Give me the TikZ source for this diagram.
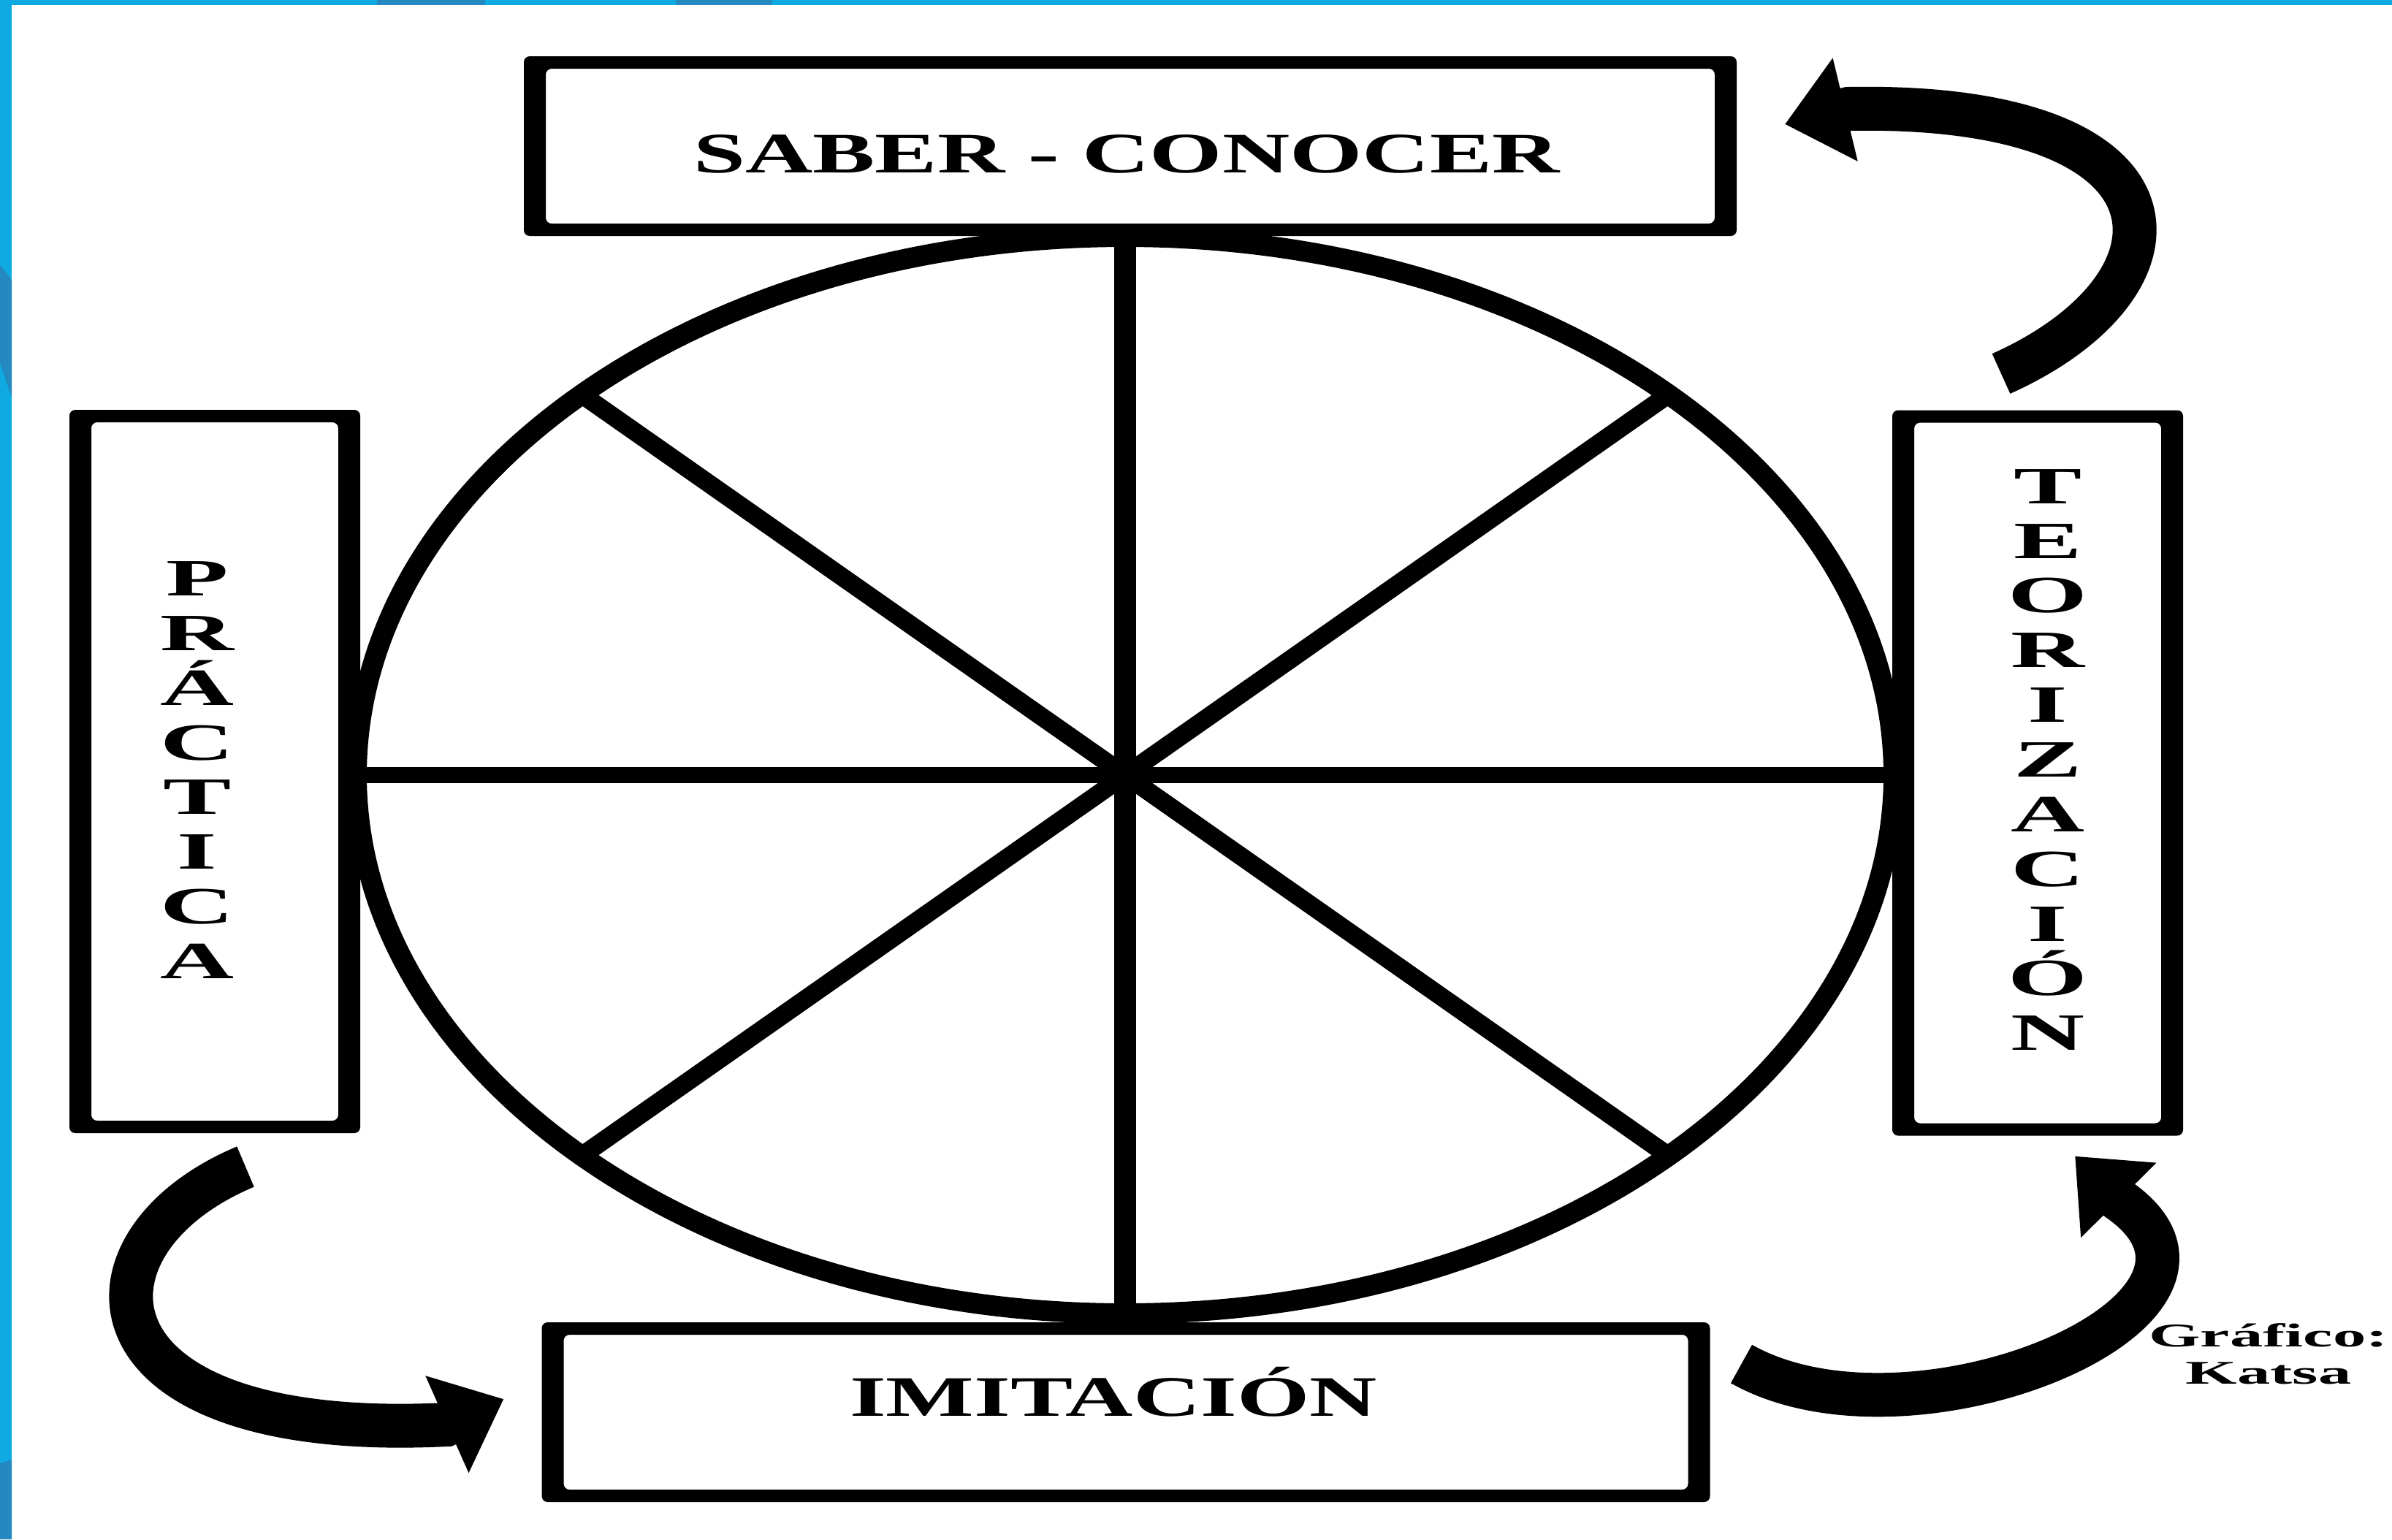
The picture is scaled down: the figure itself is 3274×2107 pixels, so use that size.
\documentclass[tikz,border=0pt]{standalone}
\usepackage{fontspec}
\setmainfont{Liberation Serif}
\usepackage{tikz}
\usetikzlibrary{positioning, calc, arrows.meta}

\definecolor{azulmarco}{RGB}{14,170,225}
\definecolor{azuloscuro}{RGB}{35,137,192}

\begin{document}
\begin{tikzpicture}[
        x=0.1mm, y=-0.1mm,
        caja/.style={inner sep=0pt, outer sep=0pt},
        marco/.style={fill=black, even odd rule, rounded corners=0.8mm},
        titulo/.style={font=\fontsize{22.3}{26}\selectfont\bfseries, xscale=1.63, inner sep=0pt, anchor=base},
        vertical/.style={font=\fontsize{20.4}{21.3}\selectfont\bfseries, xscale=1.95, align=center, inner sep=0pt},
        credito/.style={font=\fontsize{12.9}{14.6}\selectfont\bfseries, xscale=2, align=center, inner sep=0pt, anchor=north},
        rueda/.style={line width=2.8mm},
        flecha/.style={line width=6mm, -{Triangle[length=8.5mm, width=14mm]}}
    ]

        % Page and blue slide border
        \useasboundingbox (0,0) rectangle (3274,2107);
        \fill[white] (0,0) rectangle (3274,2107);
        \fill[azulmarco] (0,0) rectangle (16,2107);
        \fill[azulmarco] (0,0) rectangle (3274,7);
        \fill[azuloscuro] (516,0) rectangle (664,7);
        \fill[azuloscuro] (925,0) rectangle (1057,7);
        \fill[azuloscuro] (0,363) -- (16,383) -- (16,544) -- (0,497) -- cycle;
        \fill[azuloscuro] (0,2003) -- (16,1998) -- (16,2107) -- (0,2107) -- cycle;

        % The four boxes
        \node[caja, minimum width=166mm, minimum height=24.6mm] (saber) at (1547,200) {};
        \node[caja, minimum width=39.8mm, minimum height=99mm] (practica) at (294,1056) {};
        \node[caja, minimum width=39.8mm, minimum height=99.3mm] (teoria) at (2789,1058) {};
        \node[caja, minimum width=159.9mm, minimum height=24.6mm] (imitacion) at (1541,1933) {};

        \foreach \n in {saber, practica, teoria, imitacion}
            \fill[marco] (\n.north west) rectangle (\n.south east)
                ($(\n.north west)+(30,17)$) rectangle ($(\n.south east)+(-30,-17)$);

        % Labels
        \node[titulo] (tsaber) at (1542,236) {SABER - CONOCER};
        \node[titulo] (timitacion) at (1524,1938) {IMITACIÓN};
        \node[vertical] (tpractica) at (270,1054) {P\\R\\Á\\C\\T\\I\\C\\A};
        \node[vertical] (tteoria) at (2803,1040) {T\\E\\O\\R\\I\\Z\\A\\C\\I\\Ó\\N};

        % Wheel with eight sectors
        \draw[rueda] (1540,1061) ellipse [x radius=105.2mm, y radius=73.7mm];
        \foreach \a/\w in {0/2.2, 45/2.5, 90/3.0, 135/2.5}
            \draw[line width=\w mm] ({1540+1052*cos(\a)},{1061-737*sin(\a)}) -- ({1540-1052*cos(\a)},{1061+737*sin(\a)});

        % Curved arrows between the boxes
        \draw[flecha] ($(teoria.north)+(-50,-50)$) .. controls (3010,390) and (3010,140) .. (2530,149)
            -- ($(saber.east)+(66,-30)$);
        \draw[flecha] ($(practica.south)+(42,46)$) .. controls (90,1700) and (100,1975) .. (611,1950)
            -- ($(imitacion.west)+(-52,-18)$);
        \draw[flecha] ($(imitacion.east)+(43,-66)$) .. controls (2620,2000) and (3120,1790) .. (2897,1640)
            -- ($(teoria.south)+(51,28)$);

        % Credit
        \node[credito] (fuente) at (3105,1811) {Gráfico:\\Katsa};

    \end{tikzpicture}
\end{document}
